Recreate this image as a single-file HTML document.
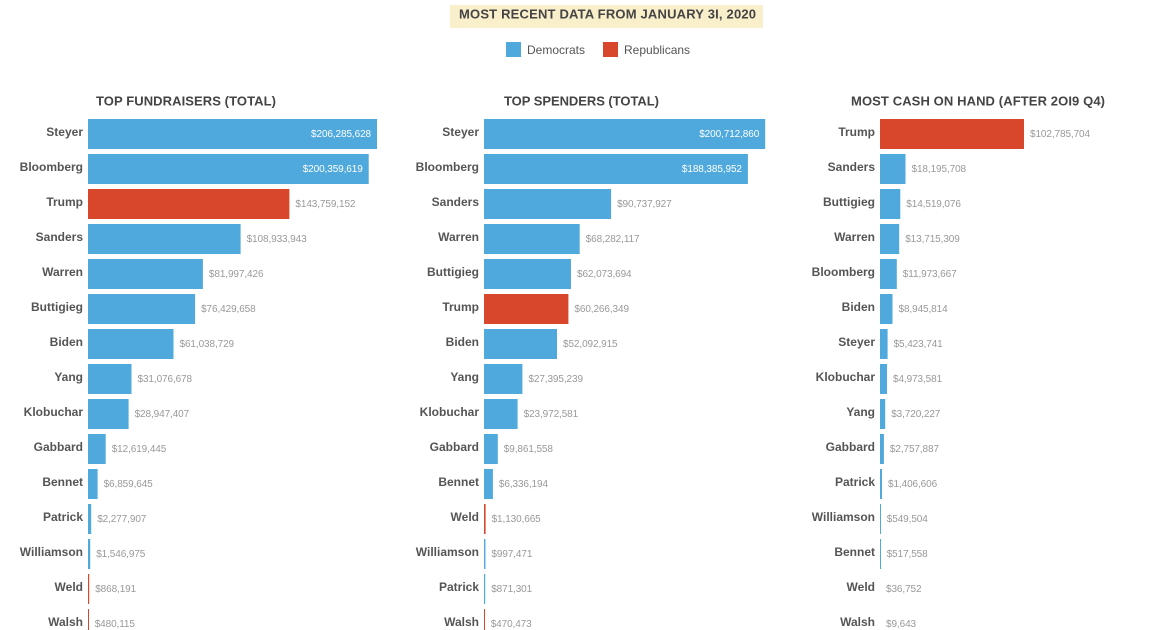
<!DOCTYPE html>
<html><head><meta charset="utf-8"><style>
html,body{margin:0;padding:0;background:#fff;}
svg{display:block;}
.n{font-family:"Liberation Sans",Arial,sans-serif;font-weight:bold;font-size:12px;fill:#555;text-anchor:end;}
.v{font-family:"Liberation Sans",Arial,sans-serif;font-size:10px;fill:#999;letter-spacing:-0.1px;}
.vi{font-family:"Liberation Sans",Arial,sans-serif;font-size:10px;fill:#fff;letter-spacing:-0.1px;text-anchor:end;}
.t{font-family:"Liberation Sans",Arial,sans-serif;font-weight:bold;font-size:13px;fill:#444;}
.l{font-family:"Liberation Sans",Arial,sans-serif;font-size:12px;fill:#555;}
.d{fill:#4fa9dd;}
.r{fill:#d8472b;}
</style></head><body>
<svg width="1156" height="630" viewBox="0 0 1156 630" xmlns="http://www.w3.org/2000/svg">
<rect x="450" y="5" width="313" height="23" fill="#faefcb"/>
<text class="t" x="459" y="18.5" font-size="12" textLength="297" lengthAdjust="spacing">MOST RECENT DATA FROM JANUARY 3I, 2020</text>
<rect class="d" x="506" y="42" width="15" height="15"/>
<text class="l" x="527" y="54">Democrats</text>
<rect class="r" x="603" y="42" width="15" height="15"/>
<text class="l" x="624" y="54">Republicans</text>

<!-- Panel 1 -->
<text class="t" x="96" y="105.5" textLength="180" lengthAdjust="spacing">TOP FUNDRAISERS (TOTAL)</text>
<g>
<text class="n" x="83" y="136">Steyer</text><rect class="d" x="88" y="119" width="289" height="30"/><text class="vi" x="371" y="137">$206,285,628</text>
<text class="n" x="83" y="171">Bloomberg</text><rect class="d" x="88" y="154" width="280.7" height="30"/><text class="vi" x="362.7" y="172">$200,359,619</text>
<text class="n" x="83" y="206">Trump</text><rect class="r" x="88" y="189" width="201.4" height="30"/><text class="v" x="295.4" y="207">$143,759,152</text>
<text class="n" x="83" y="241">Sanders</text><rect class="d" x="88" y="224" width="152.6" height="30"/><text class="v" x="246.6" y="242">$108,933,943</text>
<text class="n" x="83" y="276">Warren</text><rect class="d" x="88" y="259" width="114.9" height="30"/><text class="v" x="208.9" y="277">$81,997,426</text>
<text class="n" x="83" y="311">Buttigieg</text><rect class="d" x="88" y="294" width="107.1" height="30"/><text class="v" x="201.1" y="312">$76,429,658</text>
<text class="n" x="83" y="346">Biden</text><rect class="d" x="88" y="329" width="85.5" height="30"/><text class="v" x="179.5" y="347">$61,038,729</text>
<text class="n" x="83" y="381">Yang</text><rect class="d" x="88" y="364" width="43.5" height="30"/><text class="v" x="137.5" y="382">$31,076,678</text>
<text class="n" x="83" y="416">Klobuchar</text><rect class="d" x="88" y="399" width="40.6" height="30"/><text class="v" x="134.6" y="417">$28,947,407</text>
<text class="n" x="83" y="451">Gabbard</text><rect class="d" x="88" y="434" width="17.7" height="30"/><text class="v" x="111.7" y="452">$12,619,445</text>
<text class="n" x="83" y="486">Bennet</text><rect class="d" x="88" y="469" width="9.6" height="30"/><text class="v" x="103.6" y="487">$6,859,645</text>
<text class="n" x="83" y="521">Patrick</text><rect class="d" x="88" y="504" width="3.2" height="30"/><text class="v" x="97.2" y="522">$2,277,907</text>
<text class="n" x="83" y="556">Williamson</text><rect class="d" x="88" y="539" width="2.2" height="30"/><text class="v" x="96.2" y="557">$1,546,975</text>
<text class="n" x="83" y="591">Weld</text><rect class="r" x="88" y="574" width="1.2" height="30"/><text class="v" x="95.2" y="592">$868,191</text>
<text class="n" x="83" y="626">Walsh</text><rect class="r" x="88" y="609" width="1" height="30"/><text class="v" x="94.7" y="627">$480,115</text>
</g>

<!-- Panel 2 -->
<text class="t" x="504" y="105.5" textLength="155" lengthAdjust="spacing">TOP SPENDERS (TOTAL)</text>
<g>
<text class="n" x="479" y="136">Steyer</text><rect class="d" x="484" y="119" width="281.2" height="30"/><text class="vi" x="759.2" y="137">$200,712,860</text>
<text class="n" x="479" y="171">Bloomberg</text><rect class="d" x="484" y="154" width="263.9" height="30"/><text class="vi" x="741.9" y="172">$188,385,952</text>
<text class="n" x="479" y="206">Sanders</text><rect class="d" x="484" y="189" width="127.1" height="30"/><text class="v" x="617.1" y="207">$90,737,927</text>
<text class="n" x="479" y="241">Warren</text><rect class="d" x="484" y="224" width="95.7" height="30"/><text class="v" x="585.7" y="242">$68,282,117</text>
<text class="n" x="479" y="276">Buttigieg</text><rect class="d" x="484" y="259" width="87" height="30"/><text class="v" x="577" y="277">$62,073,694</text>
<text class="n" x="479" y="311">Trump</text><rect class="r" x="484" y="294" width="84.4" height="30"/><text class="v" x="574.4" y="312">$60,266,349</text>
<text class="n" x="479" y="346">Biden</text><rect class="d" x="484" y="329" width="73" height="30"/><text class="v" x="563" y="347">$52,092,915</text>
<text class="n" x="479" y="381">Yang</text><rect class="d" x="484" y="364" width="38.4" height="30"/><text class="v" x="528.4" y="382">$27,395,239</text>
<text class="n" x="479" y="416">Klobuchar</text><rect class="d" x="484" y="399" width="33.6" height="30"/><text class="v" x="523.6" y="417">$23,972,581</text>
<text class="n" x="479" y="451">Gabbard</text><rect class="d" x="484" y="434" width="13.8" height="30"/><text class="v" x="503.8" y="452">$9,861,558</text>
<text class="n" x="479" y="486">Bennet</text><rect class="d" x="484" y="469" width="8.9" height="30"/><text class="v" x="498.9" y="487">$6,336,194</text>
<text class="n" x="479" y="521">Weld</text><rect class="r" x="484" y="504" width="1.6" height="30"/><text class="v" x="491.6" y="522">$1,130,665</text>
<text class="n" x="479" y="556">Williamson</text><rect class="d" x="484" y="539" width="1.4" height="30"/><text class="v" x="491.4" y="557">$997,471</text>
<text class="n" x="479" y="591">Patrick</text><rect class="d" x="484" y="574" width="1.2" height="30"/><text class="v" x="491.2" y="592">$871,301</text>
<text class="n" x="479" y="626">Walsh</text><rect class="r" x="484" y="609" width="1" height="30"/><text class="v" x="490.7" y="627">$470,473</text>
</g>

<!-- Panel 3 -->
<text class="t" x="851" y="105.5" textLength="254" lengthAdjust="spacing">MOST CASH ON HAND (AFTER 2OI9 Q4)</text>
<g>
<text class="n" x="875" y="136">Trump</text><rect class="r" x="880" y="119" width="144" height="30"/><text class="v" x="1030" y="137">$102,785,704</text>
<text class="n" x="875" y="171">Sanders</text><rect class="d" x="880" y="154" width="25.5" height="30"/><text class="v" x="911.5" y="172">$18,195,708</text>
<text class="n" x="875" y="206">Buttigieg</text><rect class="d" x="880" y="189" width="20.3" height="30"/><text class="v" x="906.3" y="207">$14,519,076</text>
<text class="n" x="875" y="241">Warren</text><rect class="d" x="880" y="224" width="19.2" height="30"/><text class="v" x="905.2" y="242">$13,715,309</text>
<text class="n" x="875" y="276">Bloomberg</text><rect class="d" x="880" y="259" width="16.8" height="30"/><text class="v" x="902.8" y="277">$11,973,667</text>
<text class="n" x="875" y="311">Biden</text><rect class="d" x="880" y="294" width="12.5" height="30"/><text class="v" x="898.5" y="312">$8,945,814</text>
<text class="n" x="875" y="346">Steyer</text><rect class="d" x="880" y="329" width="7.6" height="30"/><text class="v" x="893.6" y="347">$5,423,741</text>
<text class="n" x="875" y="381">Klobuchar</text><rect class="d" x="880" y="364" width="7" height="30"/><text class="v" x="893" y="382">$4,973,581</text>
<text class="n" x="875" y="416">Yang</text><rect class="d" x="880" y="399" width="5.2" height="30"/><text class="v" x="891.2" y="417">$3,720,227</text>
<text class="n" x="875" y="451">Gabbard</text><rect class="d" x="880" y="434" width="3.9" height="30"/><text class="v" x="889.9" y="452">$2,757,887</text>
<text class="n" x="875" y="486">Patrick</text><rect class="d" x="880" y="469" width="2" height="30"/><text class="v" x="888" y="487">$1,406,606</text>
<text class="n" x="875" y="521">Williamson</text><rect class="d" x="880" y="504" width="1" height="30"/><text class="v" x="886.8" y="522">$549,504</text>
<text class="n" x="875" y="556">Bennet</text><rect class="d" x="880" y="539" width="1" height="30"/><text class="v" x="886.7" y="557">$517,558</text>
<text class="n" x="875" y="591">Weld</text><text class="v" x="886" y="592">$36,752</text>
<text class="n" x="875" y="626">Walsh</text><text class="v" x="886" y="627">$9,643</text>
</g>
</svg>
</body></html>
